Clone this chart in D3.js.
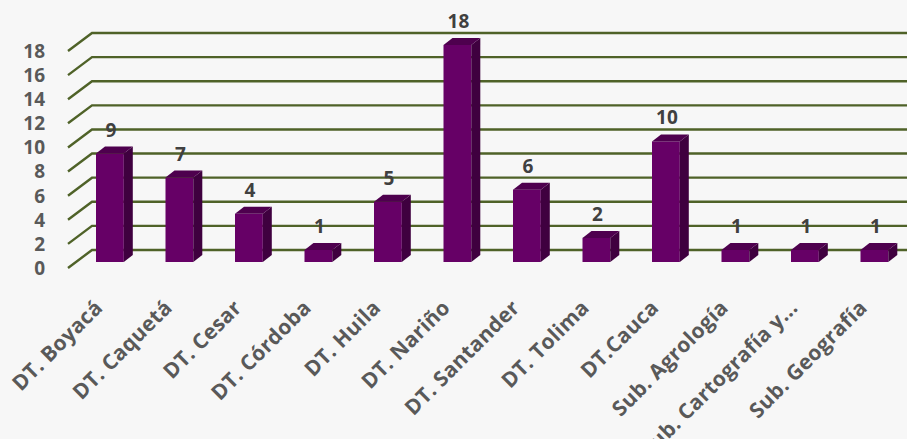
<!DOCTYPE html>
<html>
<head>
<meta charset="utf-8">
<script src="https://cdn.jsdelivr.net/npm/d3@7"></script>
<style>
html,body{margin:0;padding:0;background:#f7f7f7;}
svg{display:block;}
text{font-family:"Open Sans",sans-serif;font-weight:bold;}
</style>
</head>
<body>
<svg id="chart" width="907" height="439"></svg>
<script>
const categories = ["DT. Boyacá","DT. Caquetá","DT. Cesar","DT. Córdoba","DT. Huila","DT. Nariño","DT. Santander","DT. Tolima","DT.Cauca","Sub.  Agrología","Sub. Cartografía y...","Sub. Geografía"];
const values = [9,7,4,1,5,18,6,2,10,1,1,1];
const yTicks = [0,2,4,6,8,10,12,14,16,18];

const W = 907, H = 439;
const svg = d3.select("#chart");
svg.append("rect").attr("width",W).attr("height",H).attr("fill","#f7f7f7");

// back-wall scale
const y = d3.scaleLinear().domain([0,18]).range([250,33]);
const wallX = 92, depthX = 24, depthY = 18;
const x = d3.scaleBand().domain(categories).range([75.15,909.15]).paddingInner(0.6).paddingOuter(0.3);
const barOffY = 12;
const capDX = 9, capDY = 7;

// gridlines
const g = svg.append("g");
g.selectAll("path.grid").data(yTicks).join("path")
  .attr("class","grid")
  .attr("d", v => `M${wallX-depthX},${y(v)+depthY}L${wallX},${y(v)}L${W+2},${y(v)}`)
  .attr("fill","none").attr("stroke","#4f6228").attr("stroke-width",2.4);

// y tick labels
g.selectAll("text.yt").data(yTicks).join("text")
  .attr("class","yt")
  .attr("x", 45).attr("y", v => y(v)+depthY)
  .attr("dy","0.36em")
  .attr("text-anchor","end")
  .attr("font-size",19).attr("fill","#595959")
  .text(d => d);

// bars
const bars = svg.append("g").selectAll("g").data(categories).join("g");
const bx = d => x(d);
const yb = v => y(v) + barOffY;
const bw = x.bandwidth();
bars.append("rect")
  .attr("x", d => bx(d)).attr("y", (d,i) => yb(values[i]))
  .attr("width", bw).attr("height", (d,i) => yb(0) - yb(values[i]))
  .attr("fill","#660066");
bars.append("path")
  .attr("d", (d,i) => {
    const x1 = bx(d)+bw, t = yb(values[i]), b = yb(0);
    return `M${x1},${t}L${x1+capDX},${t-capDY}L${x1+capDX},${b-capDY}L${x1},${b}Z`;
  })
  .attr("fill","#3f003f");
bars.append("path")
  .attr("d", (d,i) => {
    const x0 = bx(d), t = yb(values[i]);
    return `M${x0},${t}L${x0+capDX},${t-capDY}L${x0+bw+capDX},${t-capDY}L${x0+bw},${t}Z`;
  })
  .attr("fill","#4e004e");

// value labels
bars.append("text")
  .attr("x", d => bx(d)+bw/2+1)
  .attr("y", (d,i) => yb(values[i]) - capDY - 10)
  .attr("text-anchor","middle")
  .attr("font-size",19).attr("fill","#404040")
  .text((d,i) => values[i]);

// category labels
svg.append("g").selectAll("text").data(categories).join("text")
  .attr("transform", d => `translate(${bx(d)+bw/2-6},${309}) rotate(-45)`)
  .attr("text-anchor","end")
  .attr("font-size",21).attr("letter-spacing","0.3px").attr("fill","#595959")
  .text(d => d);
</script>
</body>
</html>
